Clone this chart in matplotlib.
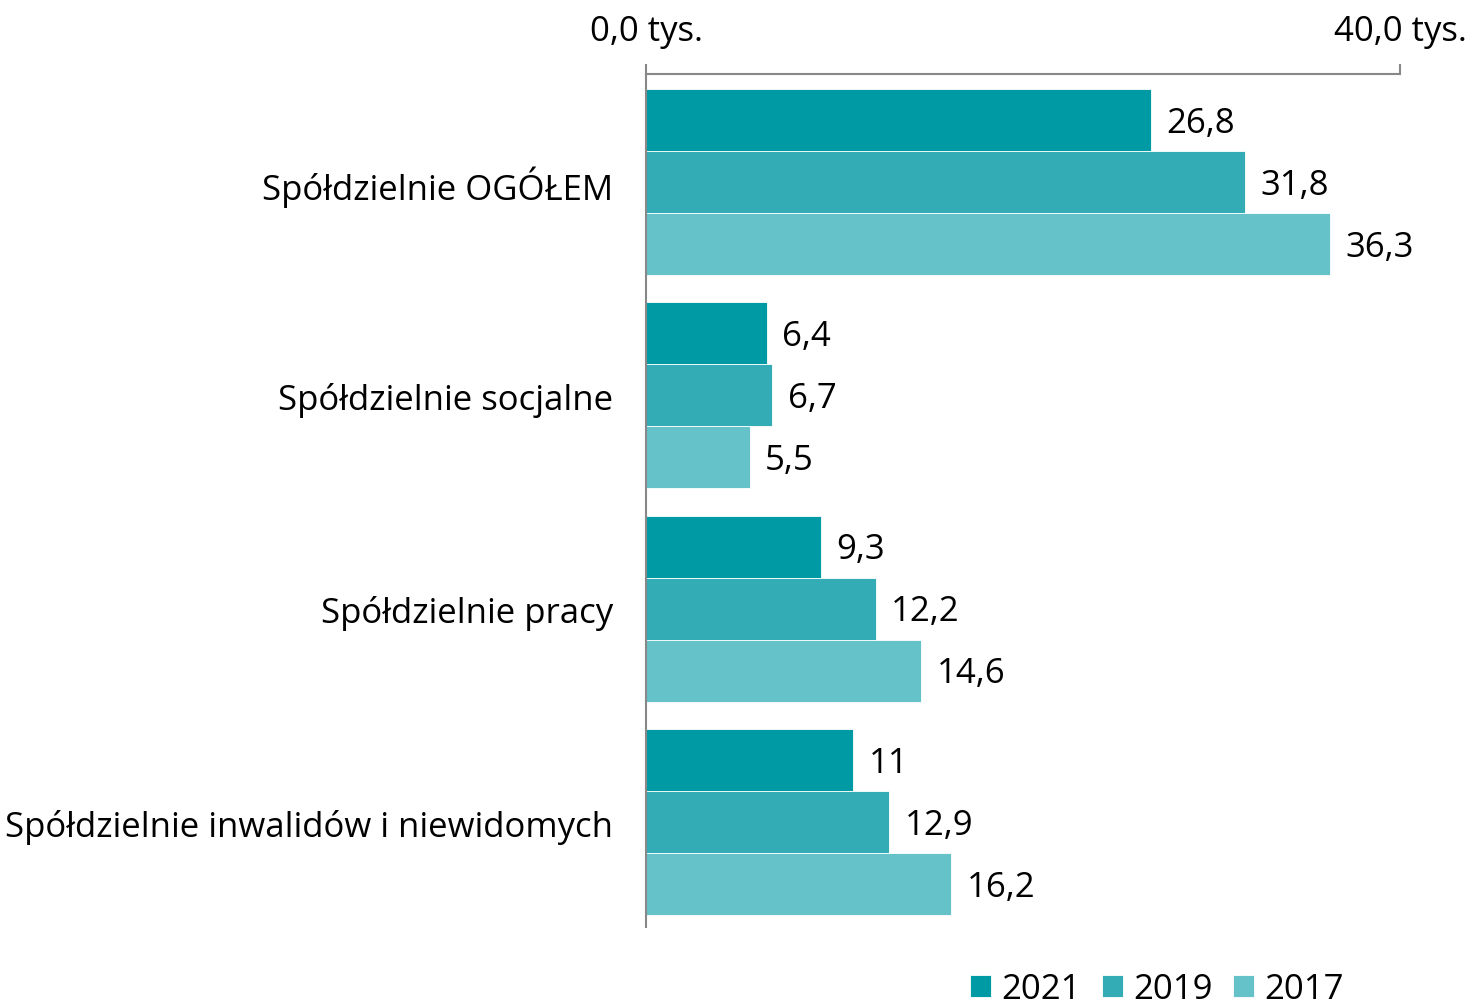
import matplotlib.pyplot as plt
import numpy as np

plt.rcParams['font.family'] = ['Open Sans', 'DejaVu Sans']

categories = ['Spółdzielnie OGÓŁEM', 'Spółdzielnie socjalne',
              'Spółdzielnie pracy', 'Spółdzielnie inwalidów i niewidomych']
years = ['2021', '2019', '2017']
v2021 = [26.8, 6.4, 9.3, 11]
v2019 = [31.8, 6.7, 12.2, 12.9]
v2017 = [36.3, 5.5, 14.6, 16.2]
labels2021 = ['26,8', '6,4', '9,3', '11']
labels2019 = ['31,8', '6,7', '12,2', '12,9']
labels2017 = ['36,3', '5,5', '14,6', '16,2']
colors = ['#009AA4', '#33ACB6', '#66C2C9']

fs = 25
fig = plt.figure(figsize=(14.76, 10.04), dpi=100)
ax = fig.add_axes([646/1476, 76/1004, 754/1476, 853/1004])

y = np.arange(len(categories))
h = 0.2906
series = [(v2021, labels2021), (v2019, labels2019), (v2017, labels2017)]
for i, (vals, labs) in enumerate(series):
    pos = y + (i - 1) * h
    bars = ax.barh(pos, vals, height=h, color=colors[i], label=years[i],
                   edgecolor='white', linewidth=0.6)
    for b, lab in zip(bars, labs):
        ax.annotate(lab, (b.get_width(), b.get_y() + b.get_height() / 2),
                    xytext=(11, -2), textcoords='offset points',
                    va='center', ha='left', fontsize=fs)

ax.set_xlim(0, 40)
ax.set_ylim(3.492, -0.506)
ax.xaxis.tick_top()
ax.set_xticks([0, 40])
ax.set_xticklabels(['0,0 tys.', '40,0 tys.'])
ax.tick_params(axis='x', length=7, width=1.5, color='#888888', pad=12, labelsize=fs)
ax.set_yticks(y)
ax.set_yticklabels(categories)
ax.tick_params(axis='y', length=0, pad=24, labelsize=fs)
for s in ['right', 'bottom']:
    ax.spines[s].set_visible(False)
for s in ['top', 'left']:
    ax.spines[s].set_color('#888888')
    ax.spines[s].set_linewidth(1.5)

fig.legend(loc='center', bbox_to_anchor=(0.784, 0.014), ncol=3, frameon=False,
           fontsize=fs, handlelength=0.6, handleheight=0.6, handletextpad=0.3,
           columnspacing=0.6)

fig.savefig('out.png', dpi=100)
